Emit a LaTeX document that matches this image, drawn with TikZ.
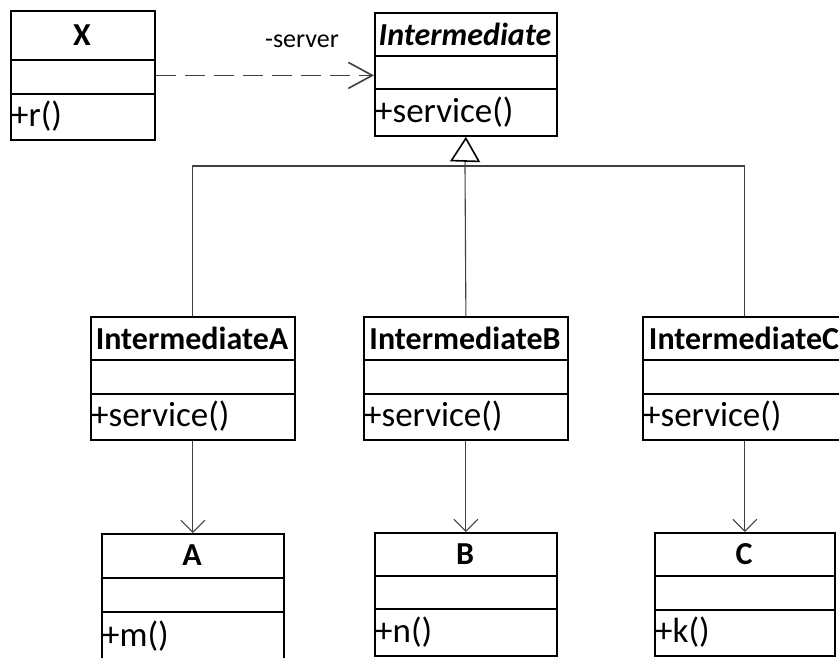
\documentclass[tikz,border=0pt]{standalone}
\usepackage{fontspec}
\setmainfont{Carlito}
\usetikzlibrary{arrows.meta}

% one UML class: name, left, top, right, bottom, divider 1, divider 2, title, member
\newcommand{\umlclass}[9]{%
  \node[classbox, minimum width=#4pt-#2pt, minimum height=#5pt-#3pt,
        anchor=north west] (#1) at (#2,#3) {};
  \draw[classline] (#2,#6) -- (#4,#6);
  \draw[classline] (#2,#7) -- (#4,#7);
  \node[classtitle] (#1-title) at ({(#2+#4)/2},{(#3+#6)/2}) {#8};
  \node[classmember] (#1-member) at (#2,{(#7+#5)/2}) {#9};
}

\begin{document}
\begin{tikzpicture}[x=1pt, y=-1pt,
    classbox/.style ={draw, line width=1.8pt, inner sep=0pt},
    classline/.style ={line width=1.8pt},
    classtitle/.style ={font=\fontsize{32}{36}\selectfont\bfseries, inner sep=0pt},
    classmember/.style ={font=\fontsize{35}{40}\selectfont, anchor=west, inner sep=1pt},
    connector/.style ={line width=1.1pt, black!75}]
   \useasboundingbox (0,0) rectangle (839,657);
   \umlclass{X}{10}{10}{154}{139}{60}{94}{X}{+r()}
   \umlclass{Intermediate}{374}{12}{556}{135}{56}{89}{\itshape Intermediate}{+service()}
   \umlclass{IntermediateA}{90}{316}{294}{439}{360}{394}{IntermediateA}{+service()}
   \umlclass{IntermediateB}{363}{316}{567}{439}{360}{394}{IntermediateB}{+service()}
   \umlclass{IntermediateC}{642}{316}{846}{439}{360}{394}{IntermediateC}{+service()}
   \umlclass{A}{101}{533}{283}{660}{578}{612}{A}{+m()}
   \umlclass{B}{374}{532}{556}{655}{576}{609}{B}{+n()}
   \umlclass{C}{654}{532}{834}{655}{576}{610}{C}{+k()}
   % dependency X -> Intermediate
   \draw[connector, dash pattern=on 20pt off 9pt,
         -{Straight Barb[length=24pt, width=26pt, line width=1.6pt]}]
     (X.east) -- (X.east -| Intermediate.west)
     node[pos=0.67, above=24pt, black, font=\fontsize{26}{30}\selectfont] {-server};
   % generalization
   \coordinate (join) at (465,166);
   \draw[connector] (IntermediateA.north) |- (join);
   \draw[connector] (IntermediateC.north) |- (join);
   \draw[connector] (IntermediateB.north) -- (join);
   \draw[connector, -{Triangle[open, length=25pt, width=30pt, line width=1.6pt, black]}]
     (join) -- (Intermediate.south);
   % associations
   \draw[connector, -{Straight Barb[length=12pt, width=24pt]}] (IntermediateA.south) -- (A.north);
   \draw[connector, -{Straight Barb[length=12pt, width=24pt]}] (IntermediateB.south) -- (B.north);
   \draw[connector, -{Straight Barb[length=12pt, width=24pt]}] (IntermediateC.south) -- (C.north);
 \end{tikzpicture}
\end{document}
